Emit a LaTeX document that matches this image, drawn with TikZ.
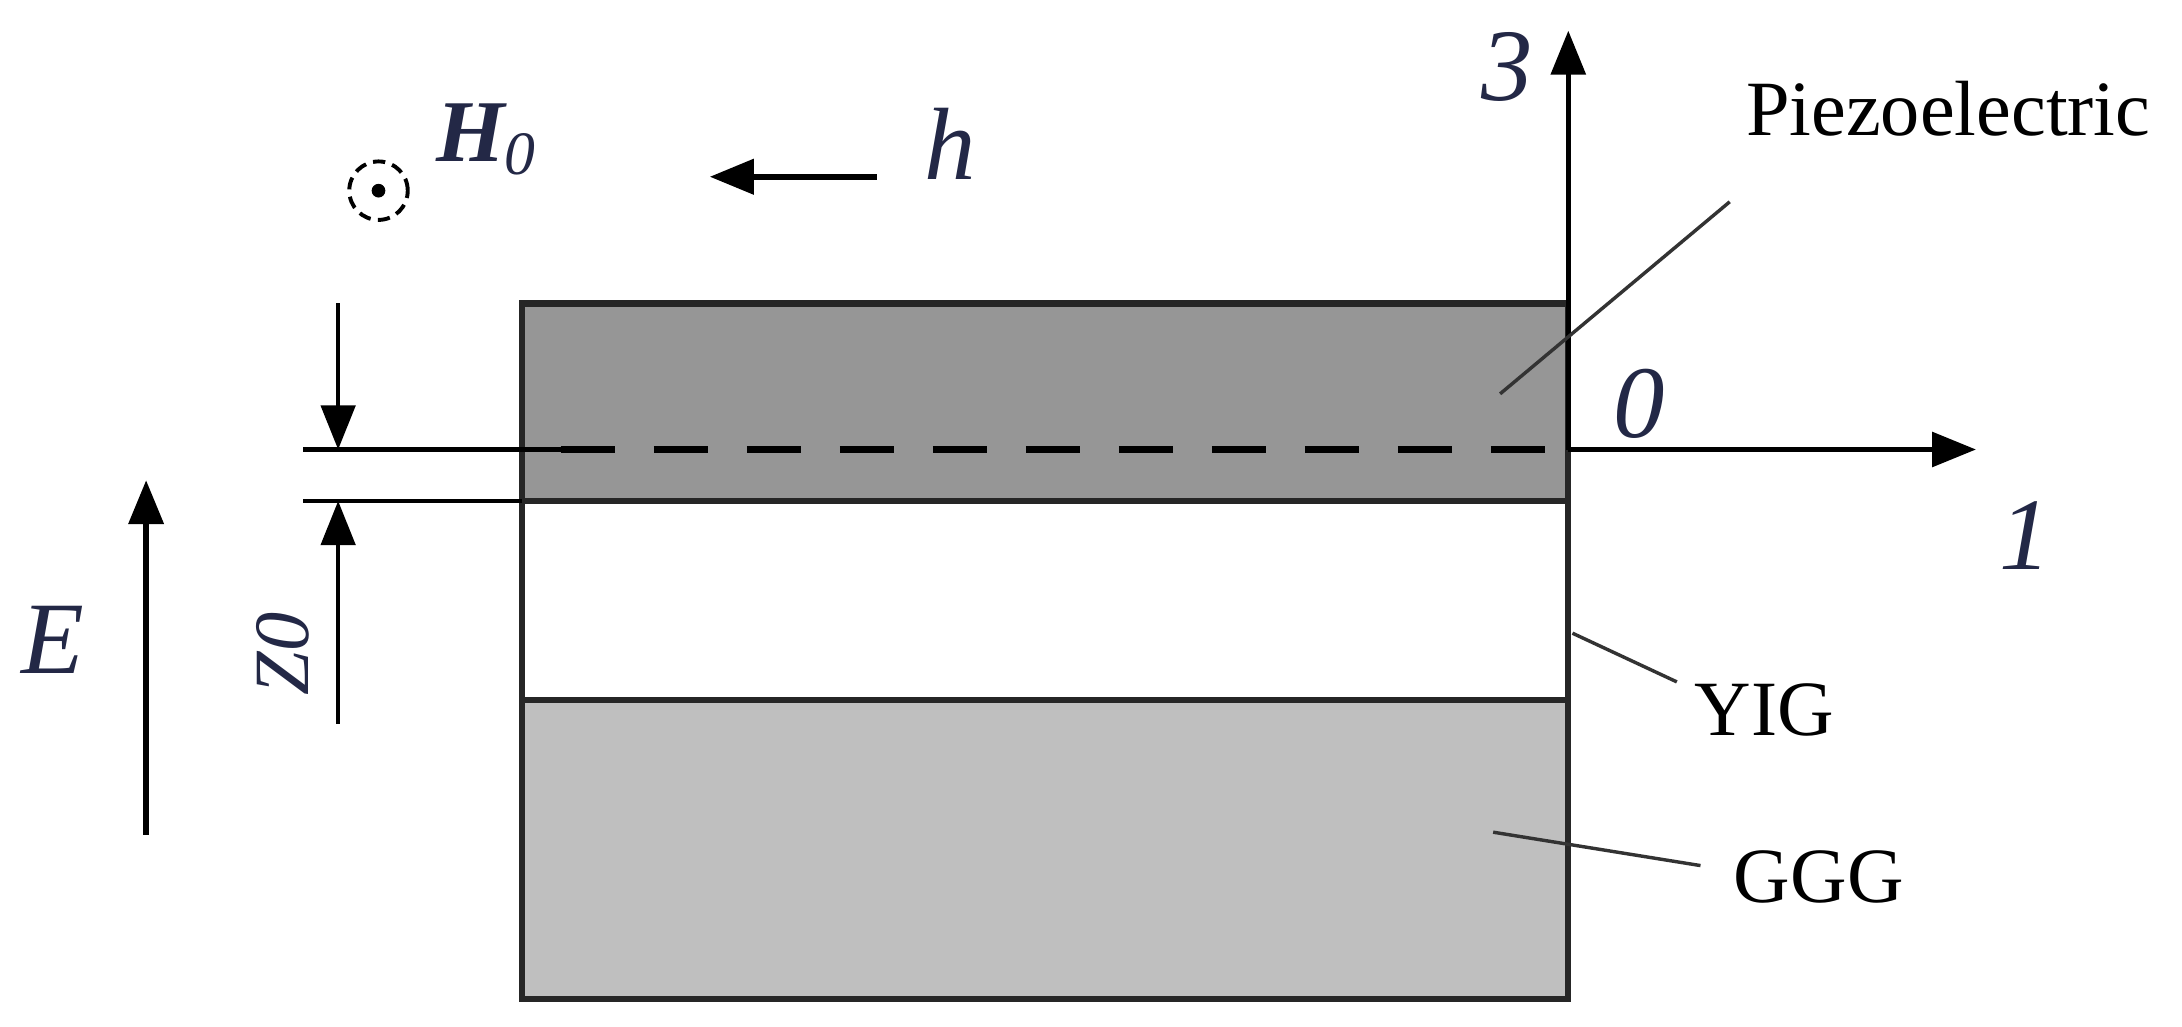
\documentclass[tikz,border=0pt]{standalone}
\usepackage{fontspec}
\setmainfont{Liberation Serif}
\usetikzlibrary{arrows.meta}
\definecolor{lab}{RGB}{35,40,70}
\tikzset{
  box/.style={draw=black!85,line width=1.3pt},
  ax/.style={line width=1.1pt,-{Triangle[length=9pt,width=7pt]}},
  lead/.style={line width=0.7pt,black!80},
  lbl/.style={font=\fontsize{16}{18}\selectfont},
  big/.style={font=\fontsize{21}{23}\selectfont\itshape,text=lab},
}
\begin{document}
\begin{tikzpicture}[x=0.01cm,y=-0.01cm]
\useasboundingbox (0,0) rectangle (1568,738);
% layers
\draw[box,fill=black!41] (375,218) rectangle (1127,360);
\draw[box,fill=white] (375,360) rectangle (1127,503);
\draw[box,fill=black!25] (375,503) rectangle (1127,718);
% coordinates
\coordinate (o) at (1127,323);
\coordinate (x1) at (1420,323);
\coordinate (x3) at (1127,22);
\coordinate (dl) at (375,323);
\coordinate (a1) at (218,323);
\coordinate (a2) at (218,360);
\coordinate (b2) at (375,360);
\draw[line width=1.3pt,dash pattern=on 11pt off 8pt] ([xshift=8pt]dl) -- (o);
\draw[ax] (o) -- (x1);
\draw[ax] (o) -- (x3);
\draw[line width=1pt] (a1) -- ([xshift=8pt]dl);
\draw[line width=1pt] (a2) -- (b2);
% Z0 dimension
\coordinate (z1) at (243,218);
\coordinate (z2) at (243,323);
\coordinate (z3) at (243,520);
\coordinate (z4) at (243,360);
\draw[ax,line width=0.8pt] (z1) -- (z2);
\draw[ax,line width=0.8pt] (z3) -- (z4);
\node[rotate=90,font=\fontsize{16}{18}\selectfont\itshape,text=lab] (z0) at (203,470) {Z0};
% E
\coordinate (e1) at (105,600);
\coordinate (e2) at (105,345);
\draw[ax,line width=1.3pt] (e1) -- (e2);
\node[big] (E) at (38,460) {E};
% h
\coordinate (h1) at (630,127);
\coordinate (h2) at (510,127);
\draw[ax,line width=1.3pt] (h1) -- (h2);
\node[big] (h) at (683,103) {h};
% H0
\node[draw,circle,dash pattern=on 2.5pt off 1.5pt,line width=0.8pt,minimum size=0.42cm,inner sep=0] (od) at (272,137) {};
\fill (od.center) circle (1.4pt);
\node[font=\fontsize{18}{20}\selectfont\bfseries\itshape,text=lab] (H) at (350,100) {H$_{\mathit{0}}$};
% axis labels
\node[big] (n3) at (1083,48) {3};
\node[big] (n0) at (1178,290) {0};
\node[big] (n1) at (1455,385) {1};
% material labels
\node[lbl] (pz) at (1400,78) {Piezoelectric};
\node[lbl] (yig) at (1268,510) {YIG};
\node[lbl] (ggg) at (1307,630) {GGG};
\coordinate (p1) at (1243,145); \coordinate (p2) at (1078,283);
\coordinate (y1) at (1205,490); \coordinate (y2) at (1130,455);
\coordinate (g1) at (1222,622); \coordinate (g2) at (1073,598);
\draw[lead] (p1) -- (p2);
\draw[lead] (y1) -- (y2);
\draw[lead] (g1) -- (g2);
\end{tikzpicture}
\end{document}
